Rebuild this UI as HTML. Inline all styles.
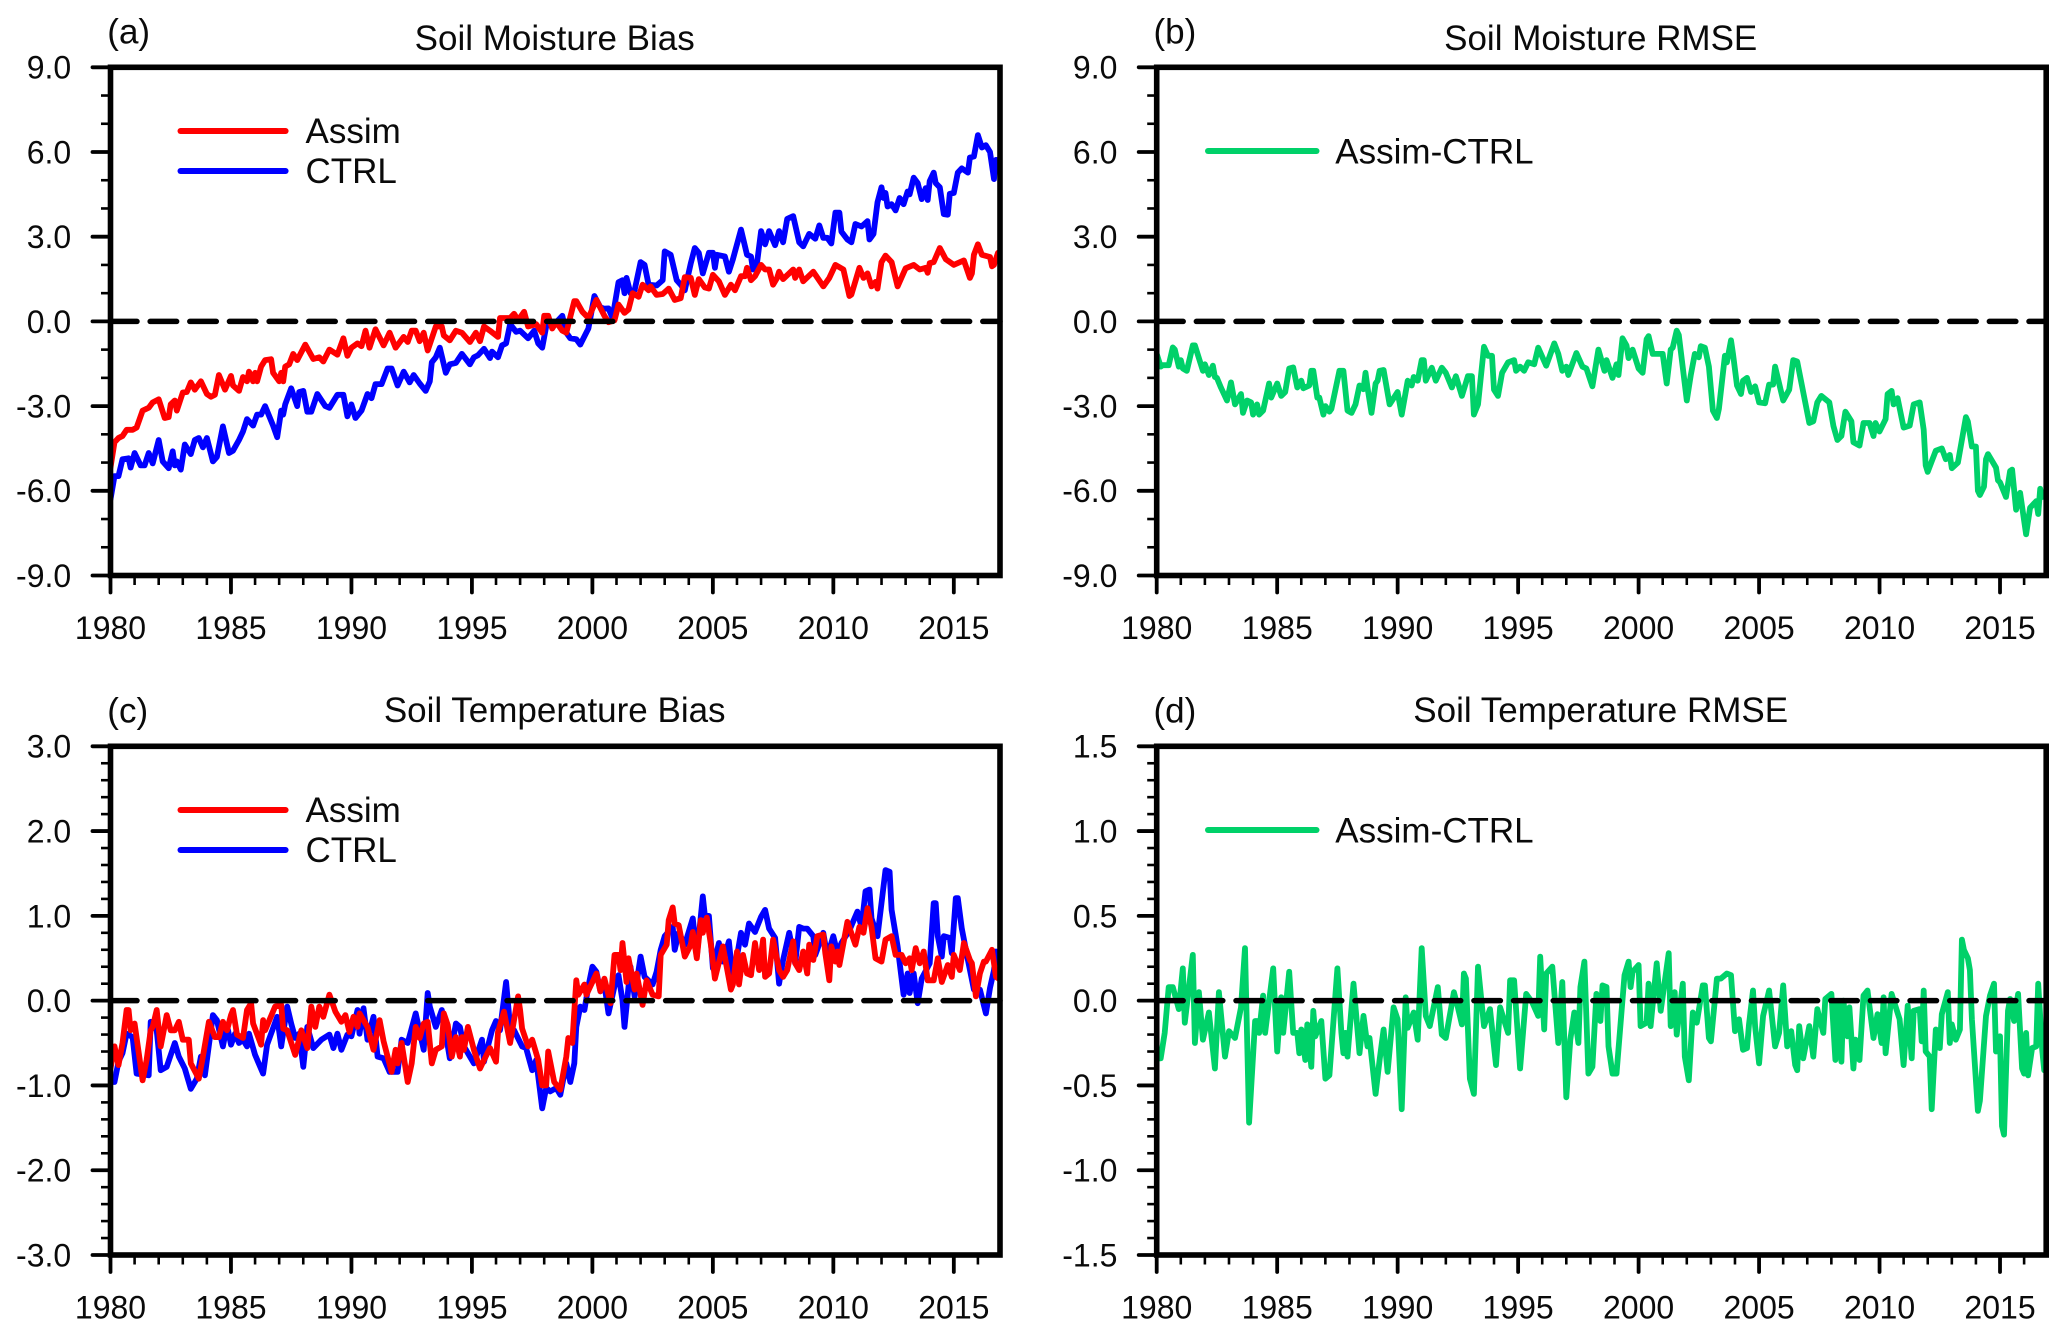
<!DOCTYPE html>
<html lang="en">
<head>
<meta charset="utf-8">
<title>Soil Moisture and Temperature Bias and RMSE</title>
<style>
html,body{margin:0;padding:0;background:#fff;}
svg{display:block;}
text{font-family:"Liberation Sans",Arial,sans-serif;fill:#0a0a0a;}
.tick{font-size:32px;}
.title{font-size:35px;text-anchor:middle;}
.tag{font-size:35px;}
.leg{font-size:35px;}
</style>
</head>
<body>
<svg id="fig" xmlns="http://www.w3.org/2000/svg" width="2067" height="1338" viewBox="0 0 2067 1338">
  <rect x="0" y="0" width="2067" height="1338" fill="#fff"/>
  <text class="tag" x="107.3" y="43.4">(a)</text>
  <text class="title" x="554.7" y="49.8">Soil Moisture Bias</text>
  <text class="tag" x="1153.5" y="43.4">(b)</text>
  <text class="title" x="1600.7" y="49.8">Soil Moisture RMSE</text>
  <text class="tag" x="107.3" y="722.4">(c)</text>
  <text class="title" x="554.7" y="722">Soil Temperature Bias</text>
  <text class="tag" x="1153.5" y="722.4">(d)</text>
  <text class="title" x="1600.7" y="722">Soil Temperature RMSE</text>
  <line x1="180.5" y1="131" x2="285.6" y2="131" stroke="#ff0000" stroke-width="6" stroke-linecap="round"/>
  <text class="leg" x="305.5" y="143">Assim</text>
  <line x1="180.5" y1="171" x2="285.6" y2="171" stroke="#0000ff" stroke-width="6" stroke-linecap="round"/>
  <text class="leg" x="305.5" y="183">CTRL</text>
  <line x1="1208" y1="151" x2="1316.5" y2="151" stroke="#00d169" stroke-width="6" stroke-linecap="round"/>
  <text class="leg" x="1335.3" y="163.3">Assim-CTRL</text>
  <line x1="180.5" y1="810" x2="285.6" y2="810" stroke="#ff0000" stroke-width="6" stroke-linecap="round"/>
  <text class="leg" x="305.5" y="822">Assim</text>
  <line x1="180.5" y1="850" x2="285.6" y2="850" stroke="#0000ff" stroke-width="6" stroke-linecap="round"/>
  <text class="leg" x="305.5" y="862">CTRL</text>
  <line x1="1208" y1="830" x2="1316.5" y2="830" stroke="#00d169" stroke-width="6" stroke-linecap="round"/>
  <text class="leg" x="1335.3" y="842.5">Assim-CTRL</text>
</svg>
<script>
// Shared axis values
const yearTicks = [1980,1985,1990,1995,2000,2005,2010,2015];
const minorYears = [1981,1982,1983,1984,1986,1987,1988,1989,1991,1992,1993,1994,1996,1997,1998,1999,2001,2002,2003,2004,2006,2007,2008,2009,2011,2012,2013,2014,2016];
const moistureTicks = [9,6,3,0,-3,-6,-9];
const moistureLabels = ["9.0","6.0","3.0","0.0","-3.0","-6.0","-9.0"];
const bTempTicks = [3,2,1,0,-1,-2,-3];
const bTempLabels = ["3.0","2.0","1.0","0.0","-1.0","-2.0","-3.0"];
const dTempTicks = [1.5,1,0.5,0,-0.5,-1,-1.5];
const dTempLabels = ["1.5","1.0","0.5","0.0","-0.5","-1.0","-1.5"];

// Panel (a): months since Jan 1980 and values
const aAssimMonths = [0,2,4,6,8,11,13,16,19,21,
24,27,29,30,32,33,36,38,40,42,
45,48,50,52,54,57,60,61,64,66,
68,69,71,72,73,75,77,80,81,84,
85,86,87,89,91,93,97,101,104,106,
109,113,116,118,120,123,125,127,129,132,
136,139,142,146,148,150,152,154,156,158,
162,165,166,169,172,175,179,182,184,186,
189,193,194,199,201,203,206,208,212,215,
216,218,220,222,225,227,231,232,235,238,
242,246,248,251,253,256,258,260,263,265,
268,269,272,275,278,281,284,286,289,291,
293,296,298,300,303,306,309,311,314,316,
317,319,321,324,326,328,330,332,333,335,
340,341,343,345,350,355,358,361,365,368,
369,373,375,377,379,381,382,384,386,389,
392,396,400,403,406,407,408,410,413,416,
420,425,428,429,430,432,434,438,439,440,
442,443];
const aAssimValues = [-5.18,-4.28,-4.13,-4.06,-3.84,-3.84,-3.76,-3.16,-3.06,-2.87,
-2.76,-3.42,-3.39,-2.94,-2.8,-3.16,-2.52,-2.5,-2.16,-2.42,
-2.12,-2.57,-2.67,-2.6,-1.9,-2.42,-1.93,-2.27,-2.46,-1.97,
-2.12,-1.78,-2.12,-1.82,-2.12,-1.6,-1.37,-1.34,-1.82,-2.12,
-1.82,-2.12,-1.6,-1.52,-1.15,-1.37,-0.82,-1.33,-1.27,-1.42,
-1,-1.18,-0.6,-1.22,-0.93,-0.78,-0.88,-0.33,-0.93,-0.28,
-0.85,-0.4,-0.93,-0.55,-0.73,-0.33,-0.33,-0.7,-0.4,-1.03,
-0.18,-0.18,-0.5,-0.67,-0.33,-0.4,-0.73,-0.4,-0.7,-0.18,
-0.33,-0.55,0.12,0.12,0.27,0.04,0.34,-0.18,-0.1,-0.4,
0.2,0.2,-0.25,-0.03,-0.33,-0.4,0.72,0.72,0.34,0.12,
0.76,0.2,-0.03,0.04,0.6,0.3,0.42,1,0.87,1.3,
1.1,1.24,0.94,0.97,1.16,0.76,0.82,1.57,1.54,0.94,
1.5,1.2,1.16,1.65,1.42,0.94,1.3,1.1,1.6,1.6,
1.9,1.46,1.6,2,1.84,1.84,1.3,1.54,1.76,1.5,
1.84,1.54,1.84,1.42,1.76,1.24,1.54,2,1.84,0.9,
0.95,1.9,1.54,1.7,1.24,1.4,1.16,2.1,2.33,2.1,
1.24,1.88,2,1.84,1.9,1.72,2.06,2.1,2.6,2.2,
2,2.16,1.54,1.7,2.36,2.73,2.36,2.28,1.95,2,
2.43,2.2];
const aCtrlMonths = [0,2,4,6,9,10,12,15,17,19,
21,24,26,29,31,32,33,35,37,40,
42,44,46,48,51,53,56,59,61,64,
66,68,71,73,75,77,81,83,85,86,
87,90,93,94,96,98,100,103,107,109,
113,116,118,120,122,125,128,130,132,135,
138,140,143,146,149,151,154,157,159,160,
162,164,167,169,172,175,179,181,183,186,
189,190,193,195,197,199,202,204,208,211,
213,215,217,219,222,225,227,229,232,234,
238,241,244,246,248,250,253,255,256,257,
259,261,264,266,268,272,275,276,279,282,
284,286,289,291,293,295,298,300,301,302,
306,308,310,314,317,319,320,322,324,326,
328,331,333,335,337,340,343,345,348,351,
353,355,357,359,361,363,364,367,369,371,
374,377,378,380,382,384,385,386,387,389,
391,393,395,397,398,400,402,404,406,407,
408,410,411,413,415,417,418,420,422,424,
427,428,430,432,434,436,438,440,441,443];
const aCtrlValues = [-6.3,-5.48,-5.48,-4.88,-4.85,-5.18,-4.66,-5.1,-5.1,-4.66,
-5.03,-4.2,-4.96,-5.2,-4.6,-5.1,-4.96,-5.25,-4.36,-4.7,
-4.2,-4.13,-4.46,-4.13,-4.96,-4.8,-3.72,-4.66,-4.58,-4.2,
-3.9,-3.46,-3.69,-3.3,-3.3,-3,-3.69,-4.1,-3.16,-3.3,
-2.94,-2.37,-3,-2.5,-2.46,-3.2,-3.2,-2.57,-3,-3.06,
-2.6,-2.6,-3.36,-2.94,-3.42,-3.16,-2.57,-2.72,-2.22,-2.22,
-1.67,-1.67,-2.27,-1.78,-2.16,-1.9,-2.2,-2.46,-2.12,-1.45,
-1.27,-0.93,-1.82,-1.52,-1.47,-1.15,-1.52,-1.27,-1.2,-0.97,
-1.3,-1.07,-1.27,-0.85,-0.78,-0.1,-0.37,-0.33,-0.6,-0.33,
-0.78,-0.93,-0.18,-0.03,-0.03,0.2,-0.4,-0.6,-0.63,-0.82,
-0.25,0.9,0.5,0.45,0.46,0.12,1.39,1.46,1,1.54,
1,1.1,2.1,2,1.3,1.27,1.46,2.48,2.36,1.46,
1.3,1.1,2.06,2.6,2.43,1.7,2.43,2.43,1.9,2.36,
2.3,1.76,2.2,3.25,2.36,2.3,1.84,2.06,3.2,2.73,
3.2,2.7,3.2,2.8,3.63,3.73,2.8,2.66,3.1,2.93,
3.4,2.96,2.96,2.76,3.85,3.85,3.18,2.9,2.8,3.45,
3.36,3.55,2.9,3.1,4.22,4.75,4.37,4.55,4.07,4.15,
3.93,4.37,4.15,4.6,4.5,5.09,4.9,4.33,4.72,4.3,
4.97,5.27,4.9,4.75,3.8,3.78,4.52,4.55,5.27,5.42,
5.27,5.8,5.84,6.6,6.16,6.24,6,5.04,5.72,5.7];

// Panel (b)
const bDiffMonths = [0,2,3,6,8,9,11,12,13,15,
18,19,21,23,24,26,28,29,30,32,
35,37,39,42,43,45,47,48,50,51,
53,56,57,60,62,64,66,68,70,72,
73,76,77,78,80,81,83,84,86,87,
91,93,95,97,99,101,103,104,105,107,
109,110,111,113,116,120,122,125,127,128,
130,132,133,134,137,139,142,144,147,149,
152,155,157,158,160,163,165,167,168,170,
172,175,178,179,181,183,185,188,190,194,
198,200,202,204,205,209,212,214,217,220,
223,224,227,229,230,232,234,235,237,240,
242,244,245,247,252,254,256,257,259,260,
264,266,268,270,271,273,275,277,279,280,
283,284,286,287,289,291,292,294,296,298,
300,303,305,307,308,312,315,317,319,322,
325,327,329,331,335,337,339,341,343,346,
347,350,352,355,357,358,360,363,364,366,
367,369,372,375,377,380,382,383,384,386,
388,391,393,395,396,399,403,404,406,408,
409,410,412,413,414,418,419,420,423,425,
426,428,430,433,435,438,439,440,441,443];
const bDiffValues = [-1.15,-1.6,-1.55,-1.55,-0.92,-1,-1.6,-1.37,-1.67,-1.75,
-0.85,-0.85,-1.3,-1.75,-1.52,-1.9,-1.57,-1.97,-2,-2.35,
-2.8,-2.16,-2.94,-2.57,-3.24,-2.8,-2.87,-3.3,-2.94,-3.3,
-3.16,-2.2,-2.7,-2.2,-2.64,-2.5,-1.67,-1.63,-2.34,-2.1,
-2.37,-2.27,-1.75,-1.75,-2.7,-2.7,-3.3,-3,-3.2,-3.1,
-1.75,-1.75,-3.16,-3.24,-2.94,-2.27,-2.4,-1.82,-2.34,-3.24,
-2.2,-2.1,-1.75,-1.72,-2.94,-2.5,-3.3,-2.1,-2.27,-1.97,
-2.1,-1.37,-1.37,-2.1,-1.64,-2.1,-1.64,-1.82,-2.34,-1.94,
-2.64,-1.94,-1.94,-3.3,-2.94,-0.9,-1.22,-1.22,-2.42,-2.64,
-1.82,-1.45,-1.37,-1.75,-1.6,-1.75,-1.45,-1.52,-0.93,-1.57,
-0.78,-1.15,-1.75,-1.6,-1.9,-1.12,-1.6,-1.67,-2.3,-1,
-1.75,-1.37,-2,-1.52,-1.9,-0.6,-0.85,-1.3,-1,-1.67,
-1.82,-0.63,-0.52,-1.15,-1.15,-2.2,-1,-0.93,-0.33,-0.48,
-2.8,-1.9,-1.15,-1.27,-0.88,-0.93,-1.6,-3.16,-3.42,-3.1,
-1.22,-1.45,-0.67,-1.15,-2.27,-2.57,-2.1,-2,-2.5,-2.3,
-2.87,-2.9,-2.24,-2.24,-1.6,-2.8,-2.42,-1.37,-1.42,-2.5,
-3.6,-3.54,-2.87,-2.64,-2.87,-3.7,-4.2,-4.06,-3.2,-3.54,
-4.28,-4.4,-3.6,-3.6,-4.06,-3.6,-3.9,-3.46,-2.57,-2.46,
-2.94,-2.72,-3.76,-3.69,-2.94,-2.87,-3.84,-5.1,-5.33,-4.96,
-4.58,-4.5,-4.88,-4.73,-5.2,-5,-3.39,-3.55,-4.43,-4.43,
-6,-6.15,-5.85,-4.88,-4.7,-5.18,-5.63,-5.7,-6.22,-5.3,
-5.25,-6.67,-6.07,-7.54,-6.6,-6.37,-6.82,-5.93,-6.22,-6.1];

// Panel (c)
const cCtrlMonths = [0,2,4,6,8,11,13,19,20,23,
25,28,32,34,37,40,43,45,47,51,
53,56,58,60,62,64,66,68,69,72,
76,78,83,85,88,90,92,94,96,98,
101,105,109,111,113,115,118,120,123,124,
126,128,131,133,136,139,143,145,148,152,
156,158,159,162,165,169,172,174,176,181,
185,186,190,192,194,197,199,201,205,207,
210,212,215,217,219,222,224,227,229,231,
232,234,236,238,240,242,244,246,248,251,
253,255,256,259,261,264,266,270,272,274,
276,280,281,283,286,290,292,295,296,298,
300,303,305,308,310,314,316,318,321,324,
326,328,331,333,335,338,341,343,345,347,
350,351,355,357,360,362,364,368,372,374,
376,378,379,382,386,388,389,392,395,397,
398,400,402,404,408,410,411,412,414,415,
418,419,421,422,424,427,430,432,433,436,
438,440,441,443];
const cCtrlValues = [-0.96,-0.96,-0.72,-0.62,-0.39,-0.43,-0.86,-0.88,-0.25,-0.35,
-0.82,-0.78,-0.5,-0.66,-0.8,-1.04,-0.92,-0.66,-0.88,-0.17,
-0.23,-0.54,-0.29,-0.52,-0.39,-0.5,-0.46,-0.54,-0.39,-0.64,
-0.86,-0.52,-0.19,-0.54,-0.07,-0.27,-0.44,-0.39,-0.78,-0.31,
-0.56,-0.46,-0.4,-0.56,-0.39,-0.58,-0.4,-0.42,-0.11,-0.39,
-0.09,-0.46,-0.19,-0.66,-0.68,-0.84,-0.84,-0.46,-0.5,-0.15,
-0.58,0.09,-0.07,-0.31,-0.11,-0.68,-0.27,-0.31,-0.54,-0.74,
-0.46,-0.72,-0.35,-0.24,-0.35,0.22,-0.31,-0.35,-0.54,-0.56,
-0.82,-0.7,-1.27,-1.03,-1.07,-1.03,-1.11,-0.74,-0.96,-0.74,
-0.31,-0.07,-0.11,0.17,0.4,0.34,0.11,0.19,-0.15,0.17,
0.3,0,-0.31,0.4,0.05,0.52,0.28,0.19,0.34,0.6,
0.76,0.87,0.6,0.8,0.66,0.97,0.52,1.23,1.01,1,
0.38,0.68,0.46,0.7,0.24,0.8,0.66,0.91,0.81,0.99,
1.07,0.85,0.74,0.2,0.48,0.8,0.44,0.87,0.85,0.85,
0.76,0.54,0.8,0.52,0.76,0.56,0.68,0.83,1.05,0.87,
1.29,1.31,0.97,0.76,1.54,1.52,1.07,0.64,0.07,0.32,
0.09,0.32,-0.03,0.26,0.44,1.15,1.15,0.76,0.52,0.76,
0.74,0.56,1.21,1.21,0.85,0.48,0.13,0.09,0.13,-0.15,
0.15,0.36,0.58,0.55];
const cAssimMonths = [0,2,4,6,8,9,10,12,16,18,
20,21,23,25,28,30,32,34,36,39,
40,44,46,49,52,54,56,58,60,61,
63,66,68,70,71,75,76,77,82,85,
86,88,92,95,98,100,102,104,106,109,
112,115,117,119,121,123,124,128,131,134,
136,140,142,143,145,148,150,152,154,156,
158,160,162,165,166,168,170,172,174,175,
176,178,181,184,186,189,192,193,196,199,
203,204,205,208,210,213,215,217,218,221,
224,227,228,230,232,233,236,237,242,244,
246,249,251,253,254,255,257,258,261,262,
265,267,270,273,274,277,278,280,281,283,
286,289,290,292,294,295,297,299,301,305,
309,310,312,313,315,317,319,321,323,325,
326,328,330,333,335,337,340,341,343,345,
347,348,350,352,355,356,358,359,361,362,
363,367,371,373,375,377,379,381,384,386,
389,391,394,396,398,399,401,403,405,407,
410,412,414,417,419,420,423,425,428,429,
431,433,435,436,439,441,443];
const cAssimValues = [-0.8,-0.54,-0.76,-0.5,-0.11,-0.11,-0.35,-0.27,-0.94,-0.7,
-0.35,-0.31,-0.11,-0.54,-0.17,-0.35,-0.35,-0.25,-0.46,-0.46,
-0.74,-0.92,-0.66,-0.25,-0.43,-0.43,-0.25,-0.35,-0.17,-0.11,
-0.4,-0.44,-0.11,-0.03,-0.27,-0.52,-0.23,-0.35,-0.07,-0.05,
-0.33,-0.35,-0.64,-0.35,-0.56,-0.07,-0.31,-0.07,-0.19,0.07,
-0.13,-0.25,-0.17,-0.37,-0.19,-0.31,-0.15,-0.31,-0.58,-0.23,
-0.48,-0.84,-0.58,-0.74,-0.5,-0.96,-0.74,-0.31,-0.44,-0.27,
-0.25,-0.74,-0.58,-0.54,-0.15,-0.29,-0.66,-0.43,-0.66,-0.43,
-0.58,-0.31,-0.58,-0.8,-0.7,-0.56,-0.72,-0.37,-0.13,-0.5,
0.05,-0.11,-0.33,-0.54,-0.46,-0.7,-1,-1,-0.6,-0.96,
-1.05,-0.66,-0.44,-0.5,0.24,0.07,0.19,0.07,0.32,0.11,
0.26,-0.03,0.54,0.54,0.36,0.68,0.22,0.5,0.13,0.32,
-0.05,0.24,0.07,0.05,0.54,0.66,0.95,1.1,0.91,0.89,
0.52,0.66,0.81,0.5,0.95,0.8,0.98,0.66,0.26,0.64,
0.13,0.19,0.58,0.19,0.54,0.32,0.3,0.68,0.36,0.72,
0.28,0.32,0.72,0.36,0.28,0.36,0.7,0.44,0.36,0.58,
0.32,0.66,0.48,0.76,0.78,0.56,0.24,0.64,0.46,0.58,
0.42,0.93,0.66,0.87,0.8,1.09,0.87,0.5,0.46,0.72,
0.76,0.54,0.54,0.44,0.5,0.36,0.62,0.44,0.58,0.24,
0.24,0.5,0.22,0.42,0.28,0.54,0.36,0.68,0.48,0.44,
0.05,0.32,0.46,0.46,0.6,0.28,0.25];

// Panel (d)
const dDiffMonths = [0,2,4,6,8,11,13,14,18,19,
21,23,26,29,31,34,36,39,42,44,
46,49,50,51,53,54,58,60,62,63,
66,68,70,71,72,74,75,77,78,79,
82,84,86,90,92,93,94,95,98,101,
103,105,106,109,111,113,115,118,120,122,
124,125,128,130,132,134,136,140,142,144,
148,150,152,153,154,156,158,160,163,166,
169,171,175,176,178,181,184,187,190,191,
193,194,197,200,202,204,206,208,210,211,
213,215,217,219,221,222,224,225,227,229,
233,235,236,237,240,241,244,245,246,249,
251,255,256,258,259,262,263,265,267,269,
272,273,275,276,279,281,284,286,288,290,
292,294,295,297,298,300,302,305,308,310,
312,314,316,318,319,320,322,325,327,329,
332,333,336,338,339,341,342,344,345,347,
348,350,352,354,357,359,361,362,363,366,
370,372,374,376,377,380,381,382,383,385,
386,388,390,391,394,395,396,398,400,401,
402,404,405,406,409,410,413,415,417,418,
420,421,422,424,425,427,429,431,432,433,
434,436,438,439,441,442,443];
const dDiffValues = [-0.34,-0.34,-0.19,0.08,0.08,-0.05,0.19,-0.13,0.27,-0.25,
0.05,-0.23,-0.07,-0.4,0.05,-0.33,-0.18,-0.22,-0.04,0.31,
-0.72,-0.12,-0.12,-0.19,0.03,-0.19,0.19,-0.3,0.02,-0.19,
0.17,-0.19,-0.19,-0.31,-0.17,-0.35,-0.14,-0.39,-0.06,-0.21,
-0.12,-0.46,-0.44,0.19,-0.19,-0.31,-0.19,-0.33,0.1,-0.31,
-0.09,-0.27,-0.22,-0.55,-0.35,-0.17,-0.42,-0.04,-0.11,-0.64,
0.02,-0.16,-0.07,-0.23,0.31,-0.09,-0.15,0.08,-0.2,-0.22,
0.05,-0.04,-0.14,0.16,0.13,-0.46,-0.55,0.2,-0.15,-0.05,
-0.38,-0.04,-0.19,0.12,0.12,-0.4,0.04,-0.01,-0.09,0.26,
-0.17,0.16,0.2,-0.25,0.11,-0.57,-0.23,-0.07,-0.25,0.08,
0.23,-0.43,-0.39,0.04,-0.12,0.09,0.08,-0.27,-0.43,-0.43,
0.15,0.23,0.08,0.17,0.21,-0.15,-0.13,0.1,-0.15,0.22,
-0.06,0.28,-0.15,0.05,-0.2,0.1,-0.33,-0.47,-0.07,-0.13,
0.09,0.09,-0.22,-0.24,0.13,0.13,0.16,0.15,-0.18,-0.11,
-0.29,-0.28,-0.14,0.06,-0.15,-0.37,-0.09,0.06,-0.27,-0.19,
0.09,-0.27,-0.18,-0.38,-0.41,-0.15,-0.34,-0.15,-0.33,-0.05,
-0.19,0.01,0.04,-0.35,-0.01,-0.36,0,-0.21,-0.04,-0.4,
-0.23,-0.35,0.03,0.06,-0.22,-0.08,-0.25,0.02,-0.31,0.04,
-0.11,-0.38,-0.03,-0.34,-0.06,-0.05,-0.24,0.06,-0.3,-0.33,
-0.64,-0.17,-0.28,-0.08,0.05,-0.25,-0.14,-0.23,-0.17,0.36,
0.3,0.25,0.18,-0.11,-0.65,-0.59,-0.09,0.03,0.1,-0.3,
-0.21,-0.74,-0.79,-0.06,0.01,-0.12,0.04,-0.4,-0.43,-0.19,
-0.44,-0.28,-0.27,0.1,-0.29,-0.41,-0.35];

const NS = "http://www.w3.org/2000/svg";
const fig = document.getElementById("fig");
const MONTH_SPAN = 443;

function drawPanel(id, box, yMax, majorVals, majorLabels, minorStep, series) {
  const xOfMonth = function (m) { return box.left + m * (box.right - box.left) / MONTH_SPAN; };
  const xOfYear = function (yr) { return xOfMonth((yr - 1980) * 12); };
  const yOf = function (v) { return box.top + (yMax - v) * (box.bottom - box.top) / (2 * yMax); };

  const group = document.createElementNS(NS, "g");
  
  
  fig.appendChild(group);

  const clip = document.createElementNS(NS, "clipPath");
  clip.setAttribute("id", "clip-" + id);
  const clipRect = document.createElementNS(NS, "rect");
  clipRect.setAttribute("x", box.left);
  clipRect.setAttribute("y", box.top);
  clipRect.setAttribute("width", box.right - box.left);
  clipRect.setAttribute("height", box.bottom - box.top);
  clip.appendChild(clipRect);
  group.appendChild(clip);

  series.forEach(function (s) {
    const line = document.createElementNS(NS, "polyline");
    line.setAttribute("points", s.months.map(function (m, i) {
      return xOfMonth(m).toFixed(1) + "," + yOf(s.values[i]).toFixed(1);
    }).join(" "));
    line.setAttribute("fill", "none");
    line.setAttribute("stroke", s.color);
    line.setAttribute("stroke-width", "5.8");
    line.setAttribute("stroke-linejoin", "round");
    line.setAttribute("stroke-linecap", "round");
    line.setAttribute("clip-path", "url(#clip-" + id + ")");
    
    
    group.appendChild(line);
  });

  const zero = document.createElementNS(NS, "line");
  zero.setAttribute("x1", box.left);
  zero.setAttribute("x2", box.right);
  zero.setAttribute("y1", yOf(0));
  zero.setAttribute("y2", yOf(0));
  zero.setAttribute("stroke", "#000");
  zero.setAttribute("stroke-width", "5.5");
  zero.setAttribute("stroke-dasharray", "26.5 13.15");
  zero.setAttribute("stroke-linecap", "round");
  
  
  group.appendChild(zero);

  const frame = document.createElementNS(NS, "rect");
  frame.setAttribute("x", box.left);
  frame.setAttribute("y", box.top);
  frame.setAttribute("width", box.right - box.left);
  frame.setAttribute("height", box.bottom - box.top);
  frame.setAttribute("fill", "none");
  frame.setAttribute("stroke", "#000");
  frame.setAttribute("stroke-width", "5.6");
  
  
  group.appendChild(frame);

  // y axis
  majorVals.forEach(function (v, i) {
    const t = document.createElementNS(NS, "line");
    t.setAttribute("x1", box.left - 18);
    t.setAttribute("x2", box.left);
    t.setAttribute("y1", yOf(v));
    t.setAttribute("y2", yOf(v));
    t.setAttribute("stroke", "#000");
    t.setAttribute("stroke-width", "3.8");
    t.setAttribute("stroke-linecap", "round");
    
    
    group.appendChild(t);
    const label = document.createElementNS(NS, "text");
    label.setAttribute("class", "tick");
    label.setAttribute("x", box.left - 39.3);
    label.setAttribute("y", yOf(v) + 11.4);
    label.setAttribute("text-anchor", "end");
    label.textContent = majorLabels[i];
    
    
    group.appendChild(label);
    if (i < majorVals.length - 1) {
      const stepCount = Math.round((majorVals[i] - majorVals[i + 1]) / minorStep);
      for (let k = 1; k < stepCount; k++) {
        const mt = document.createElementNS(NS, "line");
        const mv = v - k * minorStep;
        mt.setAttribute("x1", box.left - 9.5);
        mt.setAttribute("x2", box.left);
        mt.setAttribute("y1", yOf(mv));
        mt.setAttribute("y2", yOf(mv));
        mt.setAttribute("stroke", "#000");
        mt.setAttribute("stroke-width", "2.6");
        
        
        group.appendChild(mt);
      }
    }
  });

  // x axis
  yearTicks.forEach(function (yr) {
    const t = document.createElementNS(NS, "line");
    t.setAttribute("x1", xOfYear(yr));
    t.setAttribute("x2", xOfYear(yr));
    t.setAttribute("y1", box.bottom);
    t.setAttribute("y2", box.bottom + 17);
    t.setAttribute("stroke", "#000");
    t.setAttribute("stroke-width", "3.8");
    t.setAttribute("stroke-linecap", "round");
    
    
    group.appendChild(t);
    const label = document.createElementNS(NS, "text");
    label.setAttribute("class", "tick");
    label.setAttribute("x", xOfYear(yr));
    label.setAttribute("y", box.bottom + 63.5);
    label.setAttribute("text-anchor", "middle");
    label.textContent = String(yr);
    
    
    group.appendChild(label);
  });
  minorYears.forEach(function (yr) {
    const t = document.createElementNS(NS, "line");
    t.setAttribute("x1", xOfYear(yr));
    t.setAttribute("x2", xOfYear(yr));
    t.setAttribute("y1", box.bottom);
    t.setAttribute("y2", box.bottom + 9.5);
    t.setAttribute("stroke", "#000");
    t.setAttribute("stroke-width", "2.6");
    
    
    group.appendChild(t);
  });
}

drawPanel("a", {left:110.5, right:1000, top:67.3, bottom:575.5}, 9, moistureTicks, moistureLabels, 1, [
  {name:"ctrl", color:"#0000ff", months:aCtrlMonths, values:aCtrlValues},
  {name:"assim", color:"#ff0000", months:aAssimMonths, values:aAssimValues}
]);
drawPanel("b", {left:1156.7, right:2046.2, top:67.3, bottom:575.5}, 9, moistureTicks, moistureLabels, 1, [
  {name:"assim-ctrl", color:"#00d169", months:bDiffMonths, values:bDiffValues}
]);
drawPanel("c", {left:110.5, right:1000, top:746.3, bottom:1255}, 3, bTempTicks, bTempLabels, 0.2, [
  {name:"ctrl", color:"#0000ff", months:cCtrlMonths, values:cCtrlValues},
  {name:"assim", color:"#ff0000", months:cAssimMonths, values:cAssimValues}
]);
drawPanel("d", {left:1156.7, right:2046.2, top:746.3, bottom:1255}, 1.5, dTempTicks, dTempLabels, 0.1, [
  {name:"assim-ctrl", color:"#00d169", months:dDiffMonths, values:dDiffValues}
]);
</script>
</body>
</html>
